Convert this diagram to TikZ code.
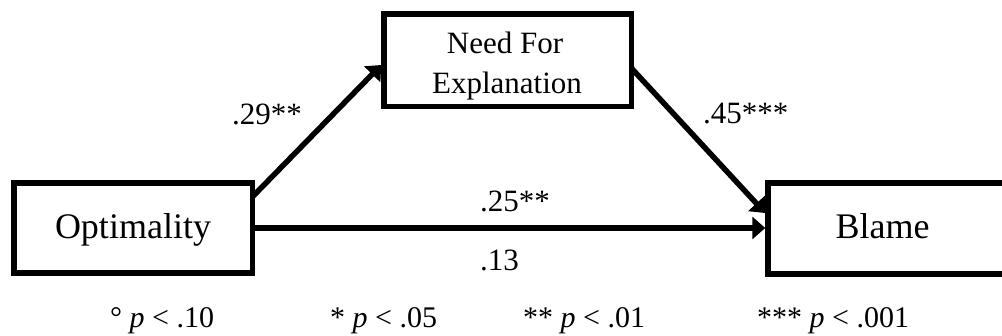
\documentclass[tikz,border=0pt]{standalone}
\usepackage{fontspec}
\setmainfont{Liberation Serif}
\usetikzlibrary{arrows.meta}
\begin{document}
\begin{tikzpicture}[x=1pt,y=-1pt,
  box/.style={draw=black, line width=5.5pt, inner sep=0pt},
  conn/.style={line width=5.5pt, -{Triangle[length=13pt,width=22pt]}},
  big/.style={font=\fontsize{36}{43}\selectfont, inner sep=0pt, anchor=base},
  mid/.style={font=\fontsize{31}{40}\selectfont, inner sep=0pt, anchor=base},
  coef/.style={font=\fontsize{31}{37}\selectfont, inner sep=0pt, anchor=base west},
  legend/.style={font=\fontsize{30}{36}\selectfont, inner sep=0pt, anchor=base west}]
\useasboundingbox[fill=white] (0,0) rectangle (1002,335);
% boxes
\node[box, minimum width=238.5pt, minimum height=90pt] (opt) at (133.25,228) {};
\node[box, minimum width=247.5pt, minimum height=92.5pt] (need) at (507.75,60.25) {};
\node[box, minimum width=242pt, minimum height=91pt] (blame) at (889,228.5) {};
% box texts
\node[big] (optt) at (133,238) {Optimality};
\node[big] (blamet) at (882.5,238) {Blame};
\node[mid] (needa) at (505,53) {Need For};
\node[mid] (needb) at (507,93) {Explanation};
% connectors
\draw[conn] ([shift={(-3pt,31pt)}]opt.east) -- ([yshift=-4.75pt]need.west);
\draw[conn] ([shift={(-3pt,-7.75pt)}]need.east) -- ([yshift=15.5pt]blame.west);
\draw[conn] (opt.east) -- (opt.east -| blame.west);
% coefficients
\node[coef] (c1) at (232,124) {.29**};
\node[coef] (c2) at (703,123) {.45***};
\node[coef] (c3) at (480,211) {.25**};
\node[coef] (c4) at (480,270) {.13};
% legend
\node[legend] (l1) at (110,327) {° \textit{p} < .10};
\node[legend] (l2) at (330,327) {* \textit{p} < .05};
\node[legend] (l3) at (523,327) {** \textit{p} < .01};
\node[legend] (l4) at (757,327) {*** \textit{p} < .001};
\end{tikzpicture}
\end{document}
